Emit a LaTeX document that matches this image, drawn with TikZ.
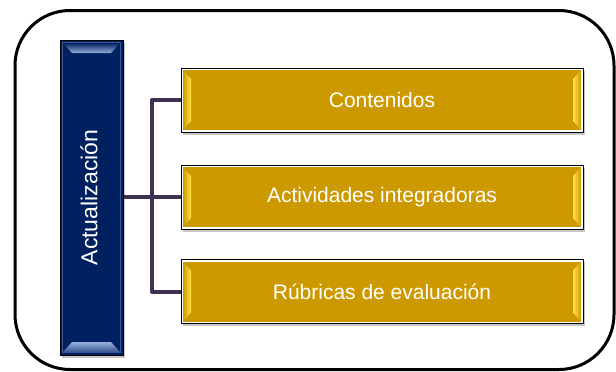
\documentclass[tikz,border=0pt]{standalone}
\usepackage{fontspec}
\setmainfont{Liberation Sans}
\usetikzlibrary{shadows,calc}
\definecolor{navy}{RGB}{0,32,96}
\definecolor{navyrim}{RGB}{55,85,145}
\definecolor{navylight}{RGB}{150,175,220}
\definecolor{gold}{RGB}{204,153,0}
\definecolor{goldlight}{RGB}{255,228,70}
\definecolor{conn}{RGB}{64,49,82}
\tikzset{
  gbox/.style={minimum width=402pt, minimum height=64pt, inner sep=0pt,
    draw=black, line width=1pt, fill=white, text=white,
    font=\fontsize{21}{25}\selectfont,
    drop shadow={shadow xshift=2pt, shadow yshift=-2.5pt, opacity=0.45, fill=gray},
    path picture={
      \fill[gold] ([shift={(2pt,-2pt)}]path picture bounding box.north west) rectangle ([shift={(-2pt,2pt)}]path picture bounding box.south east);
      \shade[left color=gold, right color=goldlight]
        ([shift={(2pt,-2pt)}]path picture bounding box.north west) --
        ([shift={(10pt,-11pt)}]path picture bounding box.north west) --
        ([shift={(10pt,11pt)}]path picture bounding box.south west) --
        ([shift={(2pt,2pt)}]path picture bounding box.south west) -- cycle;
      \shade[right color=gold, left color=goldlight]
        ([shift={(-2pt,-2pt)}]path picture bounding box.north east) --
        ([shift={(-10pt,-11pt)}]path picture bounding box.north east) --
        ([shift={(-10pt,11pt)}]path picture bounding box.south east) --
        ([shift={(-2pt,2pt)}]path picture bounding box.south east) -- cycle;
    }},
  barbox/.style={minimum width=63pt, minimum height=315pt, inner sep=0pt,
    draw=black, line width=1pt, fill=navy,
    drop shadow={shadow xshift=2pt, shadow yshift=-2.5pt, opacity=0.45, fill=gray},
    path picture={
      \draw[navyrim, line width=1.6pt] ([shift={(2.5pt,-2.5pt)}]path picture bounding box.north west) rectangle ([shift={(-2.5pt,2.5pt)}]path picture bounding box.south east);
      \shade[top color=navy, bottom color=navylight]
        ([shift={(3pt,-3pt)}]path picture bounding box.north west) --
        ([shift={(-3pt,-3pt)}]path picture bounding box.north east) --
        ([shift={(-12pt,-13pt)}]path picture bounding box.north east) --
        ([shift={(12pt,-13pt)}]path picture bounding box.north west) -- cycle;
      \shade[top color=navylight, bottom color=navyrim]
        ([shift={(3pt,3pt)}]path picture bounding box.south west) --
        ([shift={(-3pt,3pt)}]path picture bounding box.south east) --
        ([shift={(-12pt,13pt)}]path picture bounding box.south east) --
        ([shift={(12pt,13pt)}]path picture bounding box.south west) -- cycle;
    }},
  barlabel/.style={rotate=90, text=white, font=\fontsize{23}{27}\selectfont, inner sep=0pt},
  link/.style={draw=conn, line width=4pt}
}
\begin{document}
\begin{tikzpicture}[x=1pt,y=-1pt]
\useasboundingbox (0,0) rectangle (616,372);
\clip (0,0) rectangle (616,372);
\draw[line width=3pt, rounded corners=55pt] (15,10.5) rectangle (614,369.5);
\node[barbox] (bar) at (91.5,197.5) {};
\node[barlabel] (lbl) at (89,197.5) {Actualización};
\node[gbox] (b1) at (382,100) {Contenidos};
\node[gbox] (b2) at (382,197) {Actividades integradoras};
\node[gbox] (b3) at (382,291.5) {Rúbricas de evaluación};
\coordinate (j) at (152,197);
\draw[link] (bar.east |- b2.west) -- (b2.west);
\draw[link, line join=round] (b1.west) -| (j) |- (b3.west);
\end{tikzpicture}
\end{document}
